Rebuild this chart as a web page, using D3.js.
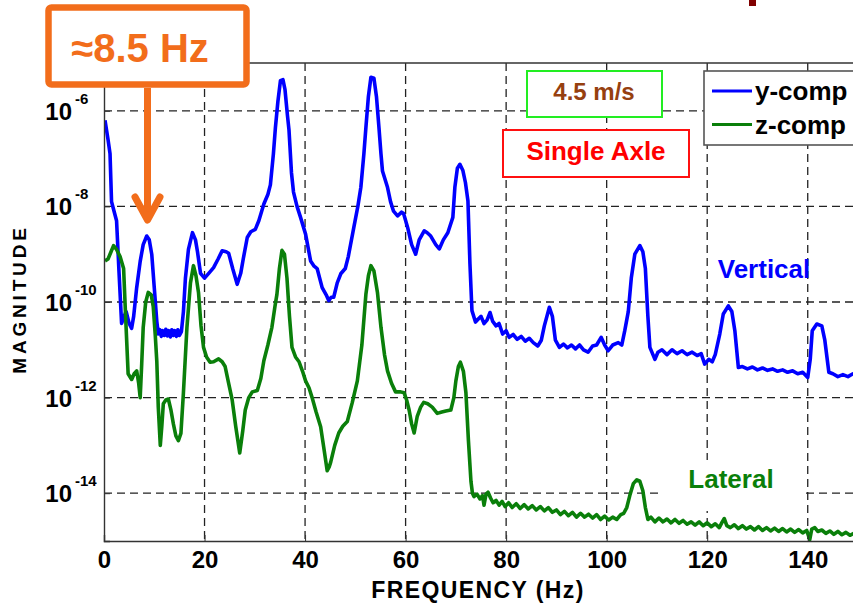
<!DOCTYPE html>
<html><head><meta charset="utf-8">
<script src="https://cdn.jsdelivr.net/npm/d3@7/dist/d3.min.js"></script>
<style>
html,body{margin:0;padding:0;background:#fff;}
svg{display:block;}
text{font-family:"Liberation Sans",Arial,sans-serif;font-weight:bold;}
</style></head>
<body>
<svg id="chart" width="853" height="609"></svg>
<script>
// ---------- data (frequency Hz, log10 magnitude) ----------
const xTicks = [0,20,40,60,80,100,120,140];
const yTickExps = [-6,-8,-10,-12,-14];
const seriesNames = ["y-comp","z-comp"];
const seriesColors = ["#0000ff","#0a7f0a"];

const yComp = [[0.2,-6.2],[0.8,-6.6],[1.2,-6.9],[1.5,-7.9],[2.0,-8.1],[2.5,-8.3],[3.0,-9.4],[3.5,-10.45],[4.0,-10.3],[4.4,-10.2],[5.0,-10.45],[5.5,-10.55],[5.9,-10.3],[6.5,-9.7],[7.2,-9.15],[7.8,-8.8],[8.5,-8.62],[9.0,-8.7],[9.5,-9.0],[10.0,-9.7],[10.5,-10.4],[10.8,-10.67],
[11.1,-10.58],[11.4,-10.72],[11.7,-10.6],[12.0,-10.7],[12.3,-10.57],[12.6,-10.71],[12.9,-10.6],[13.2,-10.73],[13.5,-10.58],[13.8,-10.7],[14.1,-10.6],[14.4,-10.72],[14.7,-10.58],[15.0,-10.7],[15.4,-10.62],[15.8,-10.2],[16.2,-9.5],[16.8,-8.9],[17.6,-8.55],[18.2,-8.7],[18.6,-8.95],[19.2,-9.4],[20.0,-9.5],[21.0,-9.38],[21.8,-9.28],[22.7,-9.1],[23.5,-8.93],[24.3,-8.95],[24.8,-8.98],[25.6,-9.3],[26.5,-9.63],[27.2,-9.4],[27.7,-9.1],[28.5,-8.65],[29.2,-8.53],[30.1,-8.48],[30.8,-8.3],[31.8,-7.95],[32.6,-7.75],[33.1,-7.55],[33.7,-6.9],[34.1,-6.35],[34.6,-5.8],[35.1,-5.37],[35.6,-5.35],[36.0,-5.55],[36.5,-6.1],[36.8,-6.4],[37.3,-7.3],[37.7,-7.7],[38.4,-8.0],[39.1,-8.23],[40.1,-8.58],[41.1,-9.14],[41.8,-9.25],[42.4,-9.3],[43.4,-9.7],[44.2,-9.85],[44.7,-9.97],[45.2,-9.9],[45.7,-9.9],[46.4,-9.6],[47.1,-9.41],[48.0,-9.3],[48.6,-9.05],[49.7,-8.44],[50.5,-8.0],[51.1,-7.6],[51.7,-6.9],[52.1,-6.35],[52.6,-5.7],[53.1,-5.3],[53.7,-5.32],[54.2,-5.7],[54.7,-6.35],[55.1,-6.9],[55.4,-7.26],[56.4,-7.6],[57.0,-7.9],[57.6,-8.1],[58.4,-8.2],[59.2,-8.12],[59.6,-8.15],[60.4,-8.44],[61.2,-8.8],[62.0,-9.0],[62.7,-8.7],[63.7,-8.51],[64.3,-8.55],[65.0,-8.62],[66.0,-8.8],[66.7,-8.89],[67.5,-8.7],[68.4,-8.55],[69.4,-8.23],[69.8,-7.6],[70.3,-7.2],[70.8,-7.12],[71.4,-7.25],[71.9,-7.5],[72.4,-7.88],[72.8,-9.2],[73.2,-10.18],[73.9,-10.42],[74.5,-10.35],[75.0,-10.3],[75.6,-10.45],[76.2,-10.38],[76.8,-10.22],[77.3,-10.4],[78.0,-10.5],[78.6,-10.45],[79.3,-10.67],[80.0,-10.6],[80.6,-10.74],[81.4,-10.68],[82.2,-10.78],[83.0,-10.72],[83.8,-10.82],[84.6,-10.76],[85.4,-10.85],[86.3,-10.92],[87.0,-10.8],[87.6,-10.5],[88.6,-10.11],[89.2,-10.3],[89.8,-10.8],[90.6,-10.95],[91.4,-10.88],[92.2,-10.96],[93.0,-10.9],[93.8,-10.98],[94.6,-10.9],[95.4,-11.0],[96.3,-11.05],[97.2,-10.92],[98.0,-10.9],[98.9,-10.74],[99.6,-10.9],[100.3,-11.02],[101.2,-10.9],[102.3,-10.85],[103.0,-10.9],[103.6,-10.6],[104.3,-10.2],[104.9,-9.5],[105.6,-9.0],[106.6,-8.82],[107.2,-8.95],[107.7,-9.3],[108.2,-10.3],[108.6,-10.95],[109.6,-11.2],[110.2,-11.05],[111.0,-11.0],[112.0,-11.1],[113.0,-11.0],[114.0,-11.08],[115.0,-11.02],[116.0,-11.1],[117.0,-11.05],[118.0,-11.12],[118.8,-11.08],[119.5,-11.3],[120.3,-11.2],[121.0,-11.25],[121.6,-11.1],[122.5,-10.67],[123.2,-10.25],[124.2,-10.08],[124.9,-10.2],[125.5,-10.6],[126.2,-11.37],[127.0,-11.35],[128.0,-11.4],[129.0,-11.36],[130.0,-11.42],[131.0,-11.38],[132.0,-11.43],[133.0,-11.4],[134.0,-11.45],[135.0,-11.42],[136.0,-11.47],[137.0,-11.44],[138.0,-11.5],[139.0,-11.47],[140.0,-11.58],[140.5,-11.2],[140.9,-10.6],[141.8,-10.46],[142.8,-10.5],[143.4,-10.8],[144.2,-11.47],[145.0,-11.5],[146.0,-11.56],[147.0,-11.52],[148.0,-11.56],[149.0,-11.5],[150.0,-11.55]];

const zComp = [[0.2,-9.14],[0.8,-9.1],[1.4,-8.95],[1.9,-8.82],[2.5,-8.9],[3.2,-9.05],[3.9,-9.3],[4.3,-10.3],[4.8,-11.5],[5.5,-11.62],[6.0,-11.5],[6.5,-11.44],[6.9,-11.7],[7.2,-12.0],[7.5,-11.3],[7.8,-10.53],[8.3,-10.0],[8.8,-9.8],[9.4,-9.85],[9.8,-10.1],[10.2,-10.7],[10.5,-11.23],[10.8,-12.2],[11.2,-13.0],[11.5,-12.6],[11.8,-12.13],[12.3,-12.05],[12.8,-12.03],[13.3,-12.25],[13.8,-12.55],[14.3,-12.8],[14.8,-12.9],[15.3,-12.75],[15.8,-11.9],[16.5,-10.53],[17.2,-9.6],[17.8,-9.24],[18.3,-9.45],[18.8,-9.8],[19.3,-10.5],[19.8,-10.95],[20.4,-11.15],[21.1,-11.26],[21.8,-11.25],[22.8,-11.19],[23.5,-11.25],[24.1,-11.35],[24.8,-11.7],[25.5,-12.05],[26.2,-12.6],[27.0,-13.16],[27.6,-12.7],[28.1,-12.26],[28.8,-12.0],[29.5,-11.88],[30.5,-11.85],[31.2,-11.6],[31.8,-11.23],[32.6,-10.9],[33.4,-10.53],[34.0,-10.1],[34.4,-9.84],[34.9,-9.3],[35.4,-8.92],[35.9,-9.0],[36.4,-9.5],[36.9,-10.3],[37.4,-10.95],[38.1,-11.15],[38.8,-11.25],[39.5,-11.45],[40.1,-11.65],[40.8,-11.8],[41.4,-12.0],[42.2,-12.3],[43.1,-12.61],[43.8,-13.1],[44.4,-13.53],[44.8,-13.45],[45.1,-13.35],[45.9,-13.0],[46.7,-12.74],[47.5,-12.6],[48.4,-12.5],[49.4,-12.1],[50.4,-11.65],[51.3,-10.9],[52.1,-9.84],[52.6,-9.45],[53.1,-9.24],[53.7,-9.35],[54.4,-9.8],[55.1,-10.53],[55.8,-11.1],[56.4,-11.44],[57.2,-11.7],[58.0,-11.88],[59.0,-11.88],[59.7,-11.9],[60.2,-12.05],[60.7,-12.26],[61.2,-12.55],[61.7,-12.74],[62.3,-12.4],[63.0,-12.2],[63.6,-12.1],[64.4,-12.13],[65.3,-12.2],[66.3,-12.33],[67.2,-12.3],[68.0,-12.28],[69.0,-12.26],[69.6,-12.0],[70.0,-11.65],[70.5,-11.35],[70.9,-11.26],[71.5,-11.45],[72.0,-11.9],[72.5,-12.9],[73.0,-13.75],[73.3,-14.0],[73.6,-14.07],
[74.2,-14.02],[74.8,-14.12],[75.3,-14.05],[75.6,-14.25],[76.0,-14.02],[76.4,-13.98],[76.9,-14.1],[77.4,-14.2],[78.0,-14.15],[78.6,-14.25],[79.2,-14.17],[79.8,-14.28],[80.5,-14.2],[81.2,-14.3],[82.0,-14.22],[82.8,-14.32],[83.6,-14.24],[84.4,-14.33],[85.2,-14.26],[86.0,-14.35],[86.8,-14.28],[87.6,-14.37],[88.4,-14.3],[89.2,-14.4],[90.0,-14.35],[90.8,-14.45],[91.6,-14.38],[92.4,-14.47],[93.2,-14.4],[94.0,-14.5],[94.8,-14.42],[95.6,-14.5],[96.4,-14.44],[97.2,-14.52],[98.0,-14.45],[98.8,-14.55],[99.6,-14.48],[100.4,-14.56],[101.2,-14.5],[102.0,-14.55],[102.8,-14.45],[103.4,-14.42],[104.0,-14.3],[104.6,-14.05],[105.3,-13.8],[106.0,-13.72],[106.6,-13.75],[107.2,-13.95],[107.7,-14.3],[108.2,-14.55],[108.8,-14.5],[109.6,-14.6],[110.4,-14.52],[111.2,-14.6],[112.0,-14.54],[112.8,-14.62],[113.6,-14.55],[114.4,-14.63],[115.2,-14.57],[116.0,-14.65],[116.8,-14.6],[117.6,-14.67],[118.4,-14.6],[119.2,-14.68],[120.0,-14.62],[120.8,-14.7],[121.6,-14.64],[122.4,-14.72],[123.0,-14.6],[123.4,-14.53],[123.9,-14.68],[124.6,-14.72],[125.4,-14.66],[126.2,-14.74],[127.0,-14.68],[127.8,-14.75],[128.6,-14.7],[129.4,-14.77],[130.2,-14.7],[131.0,-14.78],[131.8,-14.72],[132.6,-14.79],[133.4,-14.73],[134.2,-14.8],[135.0,-14.74],[135.8,-14.81],[136.6,-14.75],[137.4,-14.82],[138.2,-14.76],[139.0,-14.83],[139.8,-14.78],[140.4,-14.97],[140.8,-14.75],[141.4,-14.72],[142.0,-14.8],[142.8,-14.77],[143.6,-14.84],[144.4,-14.79],[145.2,-14.86],[146.0,-14.8],[146.8,-14.87],[147.6,-14.82],[148.4,-14.88],[149.2,-14.84],[150.0,-14.88]];

// ---------- layout ----------
const svg = d3.select("#chart");
const L = 104, R = 858, T = 63, B = 541;
const x = d3.scaleLinear().domain([0,150]).range([L,R]);
const y = d3.scaleLog().domain([1e-15,1e-5]).range([B,T]);

svg.append("rect").attr("width",853).attr("height",609).attr("fill","#fff");

// grid
const grid = svg.append("g");
grid.selectAll("line.v").data(xTicks.filter(d=>d>0)).join("line")
  .attr("x1",d=>x(d)).attr("x2",d=>x(d)).attr("y1",T).attr("y2",B)
  .attr("stroke","#222").attr("stroke-width",1.3).attr("stroke-dasharray","8,5");
grid.selectAll("line.h").data(yTickExps).join("line")
  .attr("x1",L).attr("x2",R).attr("y1",d=>y(Math.pow(10,d))).attr("y2",d=>y(Math.pow(10,d)))
  .attr("stroke","#222").attr("stroke-width",1.3).attr("stroke-dasharray","8,5");

// clip
svg.append("clipPath").attr("id","clip").append("rect")
  .attr("x",L).attr("y",T).attr("width",R-L).attr("height",B-T);

const line = d3.line().x(d=>x(d[0])).y(d=>y(Math.pow(10,d[1])));
const curves = svg.append("g").attr("clip-path","url(#clip)");
[yComp,zComp].forEach((s,i)=>{
  curves.append("path").datum(s).attr("d",line).attr("fill","none")
    .attr("stroke",seriesColors[i]).attr("stroke-width",3.6)
    .attr("stroke-linejoin","round");
});

// axes (frame)
const xAxis = d3.axisBottom(x).tickValues(xTicks).tickSize(-6).tickPadding(8).tickFormat(d3.format("d"));
const gx = svg.append("g").attr("transform",`translate(0,${B})`).call(xAxis);
gx.select(".domain").attr("stroke","#333").attr("stroke-width",1.4);
gx.selectAll(".tick line").attr("stroke","#333");
gx.selectAll(".tick text").attr("font-size",24).attr("font-family","Liberation Sans, Arial, sans-serif")
  .attr("font-weight","bold").attr("fill","#000").attr("y",null).attr("dy",null)
  .attr("transform","translate(0,27)");

const yAxis = d3.axisLeft(y).tickValues(yTickExps.map(e=>Math.pow(10,e))).tickSize(-6).tickFormat("");
const gy = svg.append("g").attr("transform",`translate(${L},0)`).call(yAxis);
gy.select(".domain").attr("stroke","#333").attr("stroke-width",1.4);
gy.selectAll(".tick line").attr("stroke","#333");
svg.append("line").attr("x1",L).attr("x2",R).attr("y1",T).attr("y2",T).attr("stroke","#333").attr("stroke-width",1.4);

// y tick labels 10^n
const yl = svg.append("g");
yTickExps.forEach(e=>{
  const yy = y(Math.pow(10,e));
  yl.append("text").attr("x",72).attr("y",yy+9).attr("text-anchor","end").attr("font-size",24).text("10");
  yl.append("text").attr("x",75).attr("y",yy-7).attr("text-anchor","start").attr("font-size",15).text(String(e));
});

// axis titles
svg.append("text").attr("transform","translate(26,299) rotate(-90)").attr("text-anchor","middle")
  .attr("font-size",19).attr("letter-spacing","3.8px").text("MAGNITUDE");
svg.append("text").attr("x",478).attr("y",598).attr("text-anchor","middle")
  .attr("font-size",23).attr("letter-spacing","1.4px").text("FREQUENCY (Hz)");

// Series labels
svg.append("rect").attr("x",663).attr("y",460).attr("width",143).attr("height",51).attr("fill","#fff");
svg.append("text").attr("x",731).attr("y",488).attr("text-anchor","middle").attr("font-size",26)
  .attr("fill",seriesColors[1]).text("Lateral");
svg.append("text").attr("x",764).attr("y",278).attr("text-anchor","middle").attr("font-size",26)
  .attr("fill",seriesColors[0]).text("Vertical");

// speed box
svg.append("rect").attr("x",527).attr("y",71).attr("width",135).attr("height",46)
  .attr("fill","#fff").attr("stroke","#22ee22").attr("stroke-width",2);
svg.append("text").attr("x",594).attr("y",100).attr("text-anchor","middle").attr("font-size",24)
  .attr("fill","#96400f").text("4.5 m/s");
// single axle box
svg.append("rect").attr("x",503).attr("y",130).attr("width",186).attr("height",47)
  .attr("fill","#fff").attr("stroke","#ff1010").attr("stroke-width",2);
svg.append("text").attr("x",596).attr("y",160).attr("text-anchor","middle").attr("font-size",26)
  .attr("fill","#ff0000").text("Single Axle");

// legend
const lg = svg.append("g");
lg.append("rect").attr("x",704).attr("y",71).attr("width",160).attr("height",74)
  .attr("fill","#fff").attr("stroke","#555").attr("stroke-width",1.6);
seriesNames.forEach((n,i)=>{
  const yy = 91 + i*33.5;
  lg.append("line").attr("x1",712).attr("x2",752).attr("y1",yy).attr("y2",yy)
    .attr("stroke",seriesColors[i]).attr("stroke-width",3);
  lg.append("text").attr("x",755).attr("y",yy+9).attr("font-size",26).attr("fill","#000").text(n);
});

// dark red mark at top (cropped slide element)
svg.append("rect").attr("x",749).attr("y",0).attr("width",7).attr("height",6).attr("fill","#800000");

// orange annotation
const orange = "#f26d1b";
svg.append("rect").attr("x",48.5).attr("y",7.5).attr("width",198).attr("height",77).attr("rx",3)
  .attr("fill","#fff").attr("stroke",orange).attr("stroke-width",6.5);
svg.append("text").attr("x",140).attr("y",62).attr("text-anchor","middle")
  .attr("font-family","Open Sans, sans-serif").attr("font-size",40).attr("font-weight","bold")
  .attr("fill",orange).text("≈8.5 Hz");
const ax = 147.5;
svg.append("line").attr("x1",ax).attr("x2",ax).attr("y1",88).attr("y2",219)
  .attr("stroke",orange).attr("stroke-width",7);
svg.append("path").attr("d",`M${ax-12.5},197 L${ax},220 L${ax+12.5},197`)
  .attr("fill","none").attr("stroke",orange).attr("stroke-width",7)
  .attr("stroke-linecap","round").attr("stroke-linejoin","round");
</script>
</body></html>
